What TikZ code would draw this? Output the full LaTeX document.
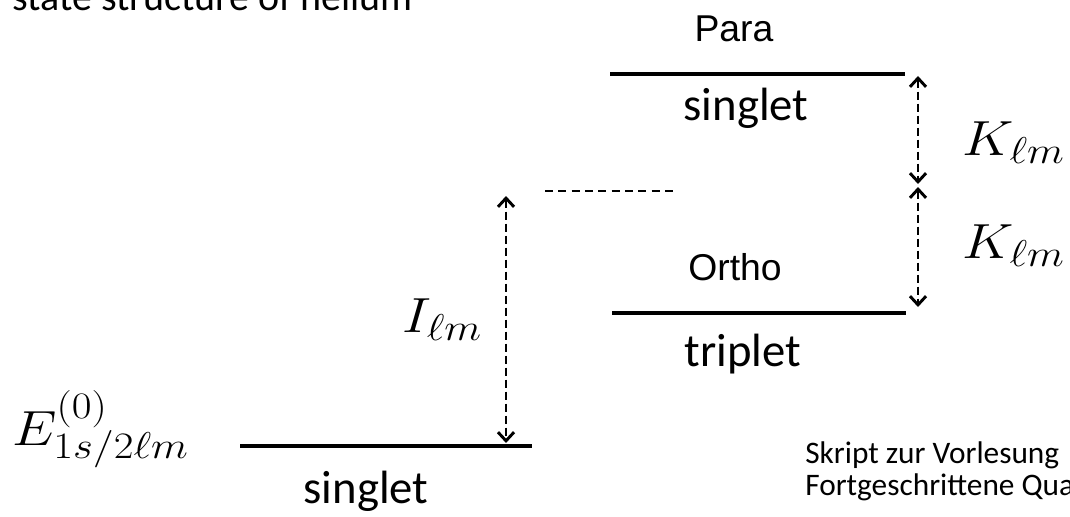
\RequirePackage{fix-cm}
\documentclass[tikz,border=0pt]{standalone}
\usepackage{graphicx}
\usepackage[no-math]{fontspec}
\setmainfont{Carlito}
\newfontfamily\arialfont{Liberation Sans}
\usetikzlibrary{arrows.meta}
\DeclareMathSizes{37}{37}{28}{20}
\newcommand{\widemath}[1]{\scalebox{1.15}[1]{$#1$}}
\begin{document}
\begin{tikzpicture}[x=0.75pt,y=-0.75pt,
  level/.style={line width=2.6pt, line cap=butt},
  gapline/.style={line width=1.4pt, dash pattern=on 6pt off 4pt},
  barb/.tip={Straight Barb[length=6.5pt,width=12pt,line width=2.2pt]},
  dimarrow/.style={line width=1.6pt, dash pattern=on 6pt off 3pt, barb-barb},
  calib/.style={inner sep=0pt, font=\fontsize{35}{42}\selectfont},
  arial/.style={inner sep=0pt, font=\arialfont\fontsize{28}{33}\selectfont},
  mathlbl/.style={inner sep=0pt, font=\fontsize{37}{44}\selectfont},
  small/.style={inner sep=0pt, font=\fontsize{23.5}{28}\selectfont}
]
\useasboundingbox (0,0) rectangle (1070,517);
\clip (0,0) rectangle (1070,517);

% title (cut off at the top)
\node[calib, font=\fontsize{30}{36}\selectfont, anchor=base west] (title) at (12,11) {state structure of helium};

% Para level
\coordinate (pL) at (610,74);
\coordinate (pR) at (905,74);
\draw[level] (pL) -- (pR);
\node[arial, anchor=base] (para) at (734,42) {Para};
\node[calib, anchor=base] (sing1) at (746,120) {singlet};

% Ortho level
\coordinate (oL) at (612,313);
\coordinate (oR) at (906,313);
\draw[level] (oL) -- (oR);
\node[arial, anchor=base] (ortho) at (735,280) {Ortho};
\node[calib, anchor=base] (trip) at (743,366) {triplet};

% dashed reference level
\coordinate (dL) at (545,191);
\coordinate (dR) at (678,191);
\draw[gapline] (dL) -- (dR);

% ground level
\coordinate (gL) at (240,446);
\coordinate (gR) at (532,446);
\draw[level] (gL) -- (gR);
\node[calib, anchor=base] (sing0) at (366,503) {singlet};
\node[mathlbl, anchor=base west] (E) at (12,445) {\widemath{E^{(0)}_{1s/2\ell m}}};

% I arrow
\coordinate (iT) at (506,196);
\coordinate (iB) at (506,443);
\draw[dimarrow] (iT) -- (iB);
\node[mathlbl, anchor=base west] (I) at (402,332) {\widemath{I_{\ell m}}};

% K arrows
\coordinate (k1T) at (918,76);
\coordinate (k1B) at (918,184);
\coordinate (k2T) at (918,187);
\coordinate (k2B) at (918,307);
\draw[dimarrow] (k1T) -- (k1B);
\draw[dimarrow] (k2T) -- (k2B);
\node[mathlbl, anchor=base west] (K1) at (962,155) {\widemath{K_{\ell m}}};
\node[mathlbl, anchor=base west] (K2) at (962,258) {\widemath{K_{\ell m}}};

% note
\node[small, anchor=base west] (note1) at (805,463) {Skript zur Vorlesung};
\node[small, anchor=base west] (note2) at (805,495) {Fortgeschrittene Quantenmechanik};
\end{tikzpicture}
\end{document}
